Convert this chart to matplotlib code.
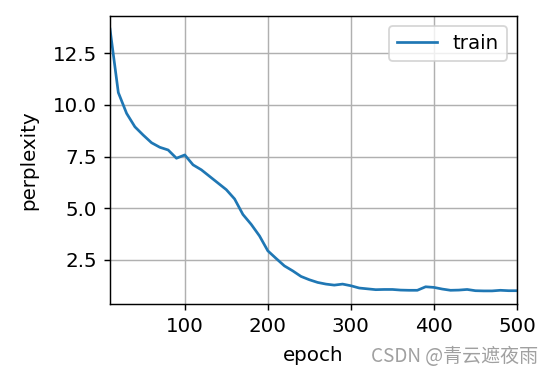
import matplotlib
matplotlib.use('Agg')
import matplotlib.pyplot as plt

# perplexity per 10 epochs
epochs = list(range(10, 510, 10))
train_ppl = [13.67, 10.6, 9.59, 8.94, 8.54, 8.17, 7.95, 7.82, 7.42, 7.58,
             7.1, 6.86, 6.54, 6.22, 5.9, 5.45, 4.7, 4.22, 3.66, 2.94,
             2.57, 2.21, 1.97, 1.7, 1.54, 1.41, 1.33, 1.28, 1.33, 1.25,
             1.14, 1.1, 1.06, 1.07, 1.07, 1.04, 1.03, 1.03, 1.2, 1.17,
             1.09, 1.03, 1.04, 1.07, 1.01, 1.0, 1.0, 1.03, 1.01, 1.01]
x_ticks = [100, 200, 300, 400, 500]
y_ticks = [2.5, 5.0, 7.5, 10.0, 12.5]

dpi = 130
plt.rcParams['font.size'] = 11
fig = plt.figure(figsize=(554 / dpi, 377 / dpi), dpi=dpi)
ax = fig.add_axes([110 / 554, 1 - 304 / 377, (517 - 110) / 554, (304 - 16) / 377])

ax.plot(epochs, train_ppl, color='#1f77b4', linewidth=1.5, label='train')
ax.set_xlim(10, 500)
ax.set_xticks(x_ticks)
ax.set_yticks(y_ticks)
ax.set_xlabel('epoch', labelpad=6)
ax.set_ylabel('perplexity', labelpad=8)
ax.grid(True)
ax.legend(loc='upper right')

fig.text(538 / 554, 1 - 357 / 377, 'CSDN @青云遮夜雨', ha='right', va='center',
         fontsize=10.5, color='#a0a0a0',
         family=['Noto Sans CJK SC', 'DejaVu Sans'])

fig.savefig('out.png', dpi=dpi)
